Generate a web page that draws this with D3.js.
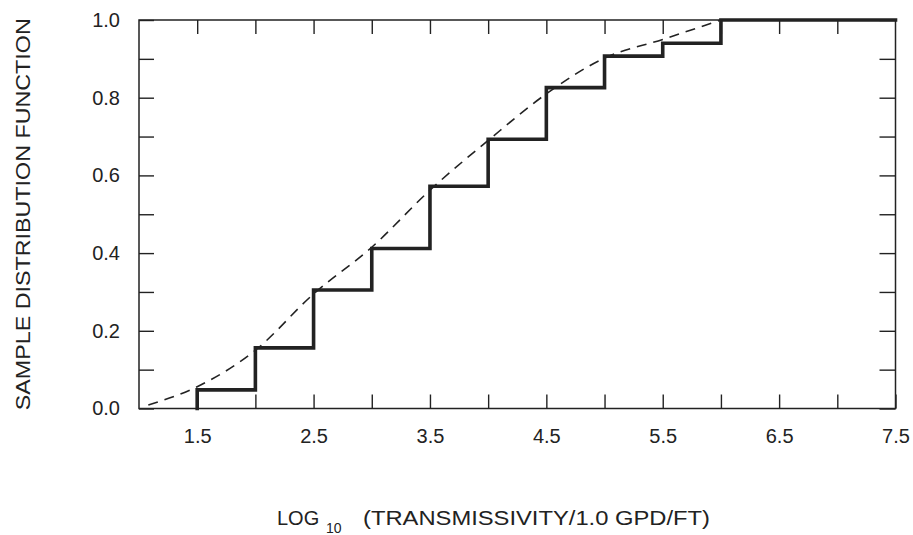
<!DOCTYPE html>
<html>
<head>
<meta charset="utf-8">
<script src="https://cdn.jsdelivr.net/npm/d3@7"></script>
<style>
  html, body { margin: 0; padding: 0; background: #fff; }
  svg { display: block; font-family: "Liberation Sans", Arial, sans-serif; }
</style>
</head>
<body>
<div id="chart"></div>
<script>
// step function: jump positions and the level reached after each jump
const stepEdges  = [1.5, 2.0, 2.5, 3.0, 3.5, 4.0, 4.5, 5.0, 5.5, 6.0];
const stepLevels = [0.048, 0.156, 0.305, 0.412, 0.572, 0.693, 0.826, 0.907, 0.94, 1.0];

// dashed fitted curve
const curveX = [1.08, 1.5, 2.0, 2.5, 3.0, 3.5, 4.0, 4.5, 5.0, 5.5, 6.0];
const curveY = [0.009, 0.056, 0.15, 0.295, 0.415, 0.562, 0.69, 0.81, 0.902, 0.95, 1.0];

// ticks
const xTicks = [1.5, 2.0, 2.5, 3.0, 3.5, 4.0, 4.5, 5.0, 5.5, 6.0, 6.5, 7.0, 7.5];
const xLabels = [1.5, 2.5, 3.5, 4.5, 5.5, 6.5, 7.5];
const yTicks = [0, 0.1, 0.2, 0.3, 0.4, 0.5, 0.6, 0.7, 0.8, 0.9, 1.0];
const yLabels = [0, 0.2, 0.4, 0.6, 0.8, 1.0];

const W = 913, H = 535;
const m = {left: 139, right: 913 - 895.5, top: 20, bottom: 535 - 408.5};
const ink = "#222";

const svg = d3.select("#chart").append("svg")
    .attr("width", W).attr("height", H);

const x = d3.scaleLinear().domain([1.0, 7.5]).range([m.left, W - m.right]);
const y = d3.scaleLinear().domain([0, 1]).range([H - m.bottom, m.top]);

const fmt = v => yLabels.some(l => Math.abs(l - v) < 1e-9) ? d3.format(".1f")(v) : "";
const fmtX = v => xLabels.some(l => Math.abs(l - v) < 1e-9) ? d3.format(".1f")(v) : "";

function styleAxis(g) {
    g.select(".domain").remove();
    g.selectAll(".tick line").attr("stroke", ink).attr("stroke-width", 1.4);
    g.selectAll(".tick text").attr("fill", ink).style("font-size", "20px");
}

// axes (ticks point inward)
svg.append("g").attr("transform", `translate(0,${y(0)})`)
    .call(d3.axisBottom(x).tickValues(xTicks).tickFormat(fmtX).tickSizeInner(-14).tickSizeOuter(0).tickPadding(20))
    .call(styleAxis);
svg.append("g").attr("transform", `translate(0,${y(1)})`)
    .call(d3.axisTop(x).tickValues(xTicks.slice(0, -1)).tickFormat("").tickSizeInner(-14).tickSizeOuter(0))
    .call(styleAxis);
svg.append("g").attr("transform", `translate(${x(1.0)},0)`)
    .call(d3.axisLeft(y).tickValues(yTicks).tickFormat(fmt).tickSizeInner(-15).tickSizeOuter(0).tickPadding(19))
    .call(styleAxis);
svg.append("g").attr("transform", `translate(${x(7.5)},0)`)
    .call(d3.axisRight(y).tickValues(yTicks).tickFormat("").tickSizeInner(-16).tickSizeOuter(0))
    .call(styleAxis);

// frame
svg.append("rect")
    .attr("x", x(1.0)).attr("y", y(1))
    .attr("width", x(7.5) - x(1.0)).attr("height", y(0) - y(1))
    .attr("fill", "none").attr("stroke", ink).attr("stroke-width", 1.5);

// dashed curve
const curvePts = curveX.map((v, i) => [v, curveY[i]]);
svg.append("path")
    .attr("d", d3.line().x(d => x(d[0])).y(d => y(d[1])).curve(d3.curveMonotoneX)(curvePts))
    .attr("fill", "none").attr("stroke", ink).attr("stroke-width", 1.6)
    .attr("stroke-dasharray", "10,7");

// step function
const stepPts = [[stepEdges[0], 0]]
    .concat(stepEdges.map((v, i) => [v, stepLevels[i]]))
    .concat([[x.domain()[1], stepLevels[stepLevels.length - 1]]]);
svg.append("path")
    .attr("d", d3.line().x(d => x(d[0])).y(d => y(d[1])).curve(d3.curveStepAfter)(stepPts))
    .attr("fill", "none").attr("stroke", ink).attr("stroke-width", 3.6)
    .attr("stroke-linejoin", "miter").attr("stroke-linecap", "square");

// axis titles
svg.append("text")
    .attr("transform", `translate(30,${(y(0) + y(1)) / 2}) rotate(-90)`)
    .attr("text-anchor", "middle")
    .attr("textLength", 392).attr("lengthAdjust", "spacingAndGlyphs")
    .style("font-size", "20px").attr("fill", ink)
    .text("SAMPLE DISTRIBUTION FUNCTION");

const xt = svg.append("g").attr("fill", ink);
xt.append("text").attr("x", 277).attr("y", 525).style("font-size", "20px").text("LOG");
xt.append("text").attr("x", 326).attr("y", 533).style("font-size", "14px").text("10");
xt.append("text").attr("x", 363).attr("y", 525).style("font-size", "20px")
    .attr("textLength", 347).attr("lengthAdjust", "spacingAndGlyphs")
    .text("(TRANSMISSIVITY/1.0 GPD/FT)");
</script>
</body>
</html>
